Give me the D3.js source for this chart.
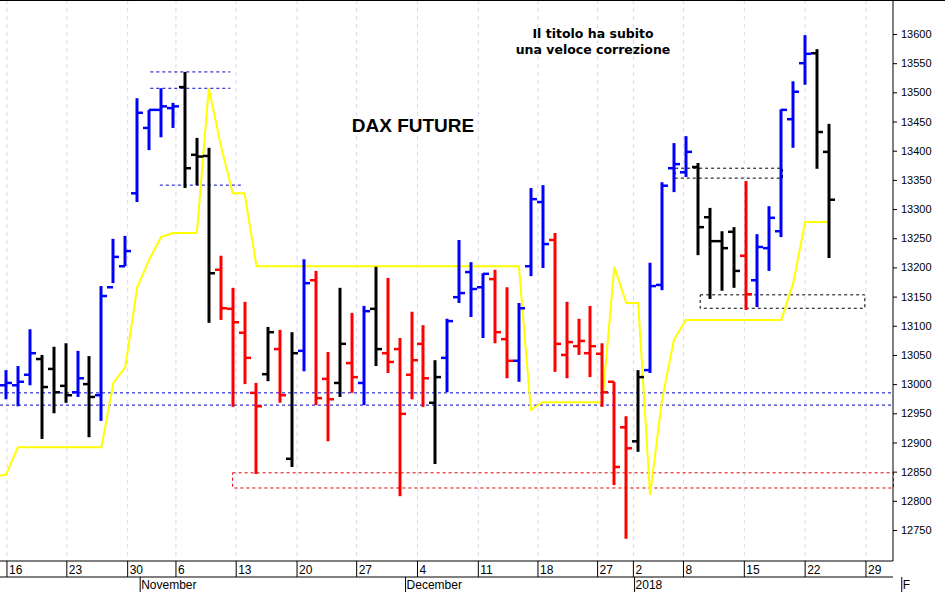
<!DOCTYPE html>
<html><head><meta charset="utf-8">
<script src="https://cdn.jsdelivr.net/npm/d3@7"></script>
<style>body{margin:0;background:#fff}svg{display:block}</style>
</head><body><svg id="c" width="945" height="592"></svg>
<script>
const opens  =[12998,12998,13016,13043,13026,12997,12986,13000,12981,13166,13202,13327,13439,13470,13473,13509,13393,13391,13196,13129,13088,12985,13017,13060,12872,13057,13178,13009,13002,13036,13002,13129,13053,13060,13016,13069,12968,13045,13149,13192,13166,13180,13077,13040,13202,13312,13247,13050,13065,13053,13052,13004,12926,12902,13024,13170,13370,13363,13372,13286,13245,13261,13220,13178,13233,13262,13454,13550,13567,13398];
const highs  =[13024,13031,13094,13050,13064,13070,13057,13048,13168,13249,13254,13490,13470,13507,13482,13535,13422,13405,13220,13165,13141,13002,13098,13093,13089,13214,13194,13055,13165,13122,13134,13201,13182,13079,13124,13101,13041,13112,13247,13209,13190,13196,13166,13139,13336,13341,13259,13141,13112,13134,13070,13004,12945,13024,13208,13346,13413,13425,13379,13302,13262,13269,13348,13257,13305,13471,13519,13598,13574,13446];
const lows   =[12974,12962,12998,12906,12950,12968,12978,12909,12937,13173,13202,13312,13401,13423,13439,13336,13341,13105,13110,12961,13000,12846,13005,12968,12858,13022,12964,12902,12978,12985,12964,13031,13019,12808,12974,12961,12863,12986,13139,13115,13079,13070,13010,13004,13185,13199,13021,13010,13050,13012,12961,12827,12735,12884,13019,13161,13329,13355,13221,13146,13160,13165,13127,13132,13194,13252,13405,13513,13369,13216];
const closes =[13002,13004,13053,12995,12986,12981,13010,12978,13151,13218,13228,13465,13470,13476,13476,13370,13390,13190,13130,13106,13045,12962,13089,12981,13053,13173,12976,12974,13069,13012,13125,13060,13038,12949,13041,13010,13012,13108,13156,13163,13189,13089,13040,13130,13317,13240,13069,13072,13074,13065,12986,12858,12890,13012,13168,13340,13377,13398,13269,13245,13233,13194,13154,13235,13285,13470,13501,13566,13432,13316];
const barColors="bbbkkkbkbbbbbbbkkkrrrrkrkbrrkrbkrrrrkbbbbrrbbbrrrrrrrkbbbbkkkkrbbbbbkk".split("");
const stopLine=[12843,12845,12892,12892,12892,12892,12892,12892,12892,12892,13002,13029,13166,13213,13252,13259,13259,13259,13507,13410,13327,13327,13202,13202,13202,13202,13202,13202,13202,13202,13202,13202,13202,13202,13202,13202,13202,13202,13202,13202,13202,13202,13202,13202,13202,12956,12969,12969,12969,12969,12969,12969,13201,13139,13139,12810,12973,13076,13110,13110,13110,13110,13110,13110,13110,13110,13110,13173,13278,13278,13278];
const tickLabels=["16","23","30","6","13","20","27","4","11","18","27","2","8","15","22","29"];
const tickPos=[0.08,5.1,10.2,14.25,19.3,24.4,29.4,34.5,39.6,44.6,49.6,52.6,56.8,61.9,67,72.1];
const monthLabels=["November","December","2018","F"];
const monthPos=[11.25,33.5,52.7,75.1];
const yTicks=d3.range(12750,13601,50);
const blueLevels=[12985,12964];
const topLevels=[[13535,12.1,18.8],[13507,12.1,18.8],[13341,12.9,19.8]];
const boxes=[{y0:12848,y1:12822,i0:19,i1:74.4,c:"#d00"},{y0:13370,y1:13353,i0:56.1,i1:65.1,c:"#000"},{y0:13153,y1:13130,i0:58.2,i1:72,c:"#000"}];

const svg=d3.select("#c");
const x=d3.scaleLinear().domain([0,69]).range([6,829]);
const y=d3.scaleLinear().domain([12750,13600]).range([530,34]);
const col={b:"#0000ff",k:"#000",r:"#ff0000"};
const right=893, bottom=561;

// grid
svg.append("g").selectAll("line").data(tickPos).join("line")
 .attr("x1",d=>x(d)).attr("x2",d=>x(d)).attr("y1",0).attr("y2",bottom)
 .attr("stroke","#d8d8f0").attr("stroke-dasharray","4,4");

// levels
svg.append("g").selectAll("line").data(blueLevels).join("line")
 .attr("x1",0).attr("x2",right).attr("y1",d=>y(d)).attr("y2",d=>y(d))
 .attr("stroke","#0000cc").attr("stroke-dasharray","3,3");
svg.append("g").selectAll("line").data(topLevels).join("line")
 .attr("x1",d=>x(d[1])).attr("x2",d=>x(d[2])).attr("y1",d=>y(d[0])).attr("y2",d=>y(d[0]))
 .attr("stroke","#0000cc").attr("stroke-dasharray","3,3");
svg.append("g").selectAll("rect").data(boxes).join("rect")
 .attr("x",d=>x(d.i0)).attr("width",d=>x(d.i1)-x(d.i0)).attr("y",d=>y(d.y0)).attr("height",d=>y(d.y1)-y(d.y0))
 .attr("fill","none").attr("stroke",d=>d.c).attr("stroke-dasharray","3,3");

// stop line
const lx=d3.scaleLinear().domain([0,70]).range([0,829]);
svg.append("path").datum(stopLine)
 .attr("d",d3.line().x((d,i)=>i===0?0:x(i-1)).y(d=>y(d)))
 .attr("fill","none").attr("stroke","#ffff00").attr("stroke-width",2);

// bars
const g=svg.append("g");
opens.forEach((o,i)=>{
  const c=col[barColors[i]], xi=Math.round(x(i));
  g.append("line").attr("x1",xi).attr("x2",xi).attr("y1",y(highs[i])).attr("y2",y(lows[i])).attr("stroke",c).attr("stroke-width",3);
  g.append("line").attr("x1",xi-6).attr("x2",xi).attr("y1",y(o)).attr("y2",y(o)).attr("stroke",c).attr("stroke-width",2.5);
  g.append("line").attr("x1",xi).attr("x2",xi+6).attr("y1",y(closes[i])).attr("y2",y(closes[i])).attr("stroke",c).attr("stroke-width",2.5);
});

// right axis
const ya=svg.append("g").attr("transform",`translate(${right},0)`)
 .call(d3.axisRight(y).tickValues(yTicks).tickSize(4).tickFormat(d3.format("d")));
ya.select(".domain").attr("d",`M0,0V${bottom}`);
ya.selectAll("text").attr("font-family","Liberation Sans, Arial").attr("font-size",11).attr("fill","#000").attr("x",8);
svg.append("line").attr("x1",0).attr("x2",945).attr("y1",0.5).attr("y2",0.5).attr("stroke","#000");

// x axis
svg.append("line").attr("x1",0).attr("x2",right).attr("y1",bottom).attr("y2",bottom).attr("stroke","#000");
svg.append("line").attr("x1",0).attr("x2",right).attr("y1",577).attr("y2",577).attr("stroke","#000");
svg.append("g").selectAll("line").data(tickPos).join("line")
 .attr("x1",d=>x(d)).attr("x2",d=>x(d)).attr("y1",bottom).attr("y2",577).attr("stroke","#000");
svg.append("g").selectAll("text").data(tickLabels).join("text")
 .attr("x",(d,i)=>x(tickPos[i])+2).attr("y",574).text(d=>d)
 .attr("font-family","Liberation Sans, Arial").attr("font-size",12);
svg.append("g").selectAll("line").data(monthPos).join("line")
 .attr("x1",d=>x(d)).attr("x2",d=>x(d)).attr("y1",d=>577).attr("y2",592).attr("stroke","#000");
svg.append("g").selectAll("text").data(monthLabels).join("text")
 .attr("x",(d,i)=>x(monthPos[i])+1).attr("y",589).text(d=>d)
 .attr("font-family","Liberation Sans, Arial").attr("font-size",12);

// titles
svg.append("text").attr("x",413).attr("y",132).attr("text-anchor","middle").text("DAX FUTURE")
 .attr("font-family","Liberation Sans, Arial").attr("font-weight","bold").attr("font-size",19);
svg.append("text").attr("x",593).attr("y",38).attr("text-anchor","middle").text("Il titolo ha subito")
 .attr("font-family","DejaVu Sans").attr("font-weight","bold").attr("font-size",12.5);
svg.append("text").attr("x",593).attr("y",54).attr("text-anchor","middle").text("una veloce correzione")
 .attr("font-family","DejaVu Sans").attr("font-weight","bold").attr("font-size",12.5);
</script></body></html>
